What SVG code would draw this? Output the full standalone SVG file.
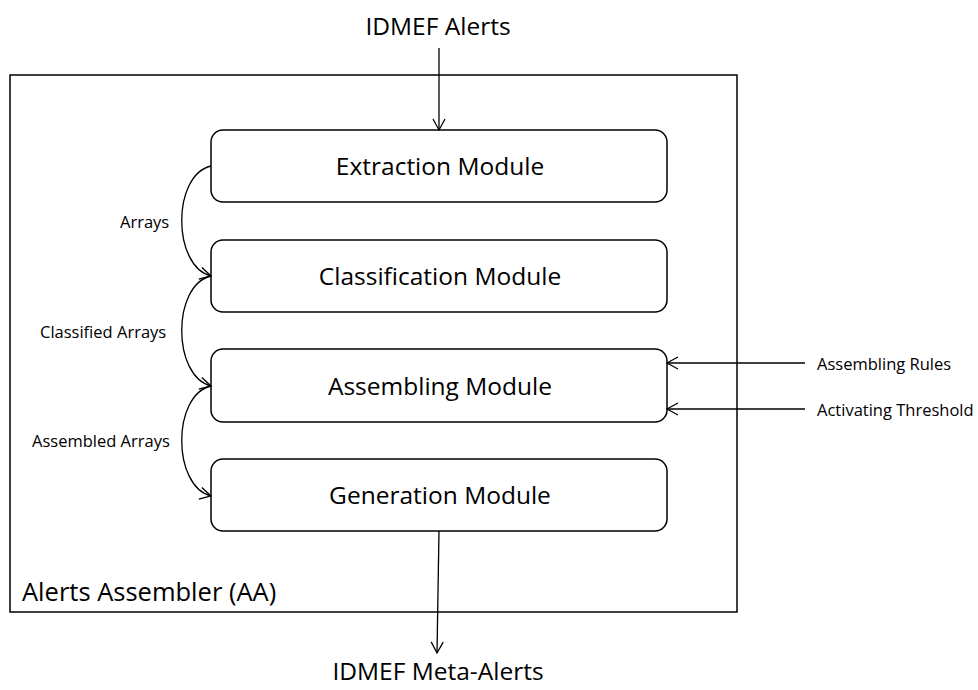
<svg xmlns="http://www.w3.org/2000/svg" width="978" height="690" viewBox="0 0 978 690">
<defs>
<marker id="arr" markerWidth="14" markerHeight="14" refX="12" refY="7" orient="auto" markerUnits="userSpaceOnUse">
<path d="M1,1 L12,7 L1,13" fill="none" stroke="#000" stroke-width="1.3"/>
</marker>
<style>
.box{fill:#fff;stroke:#000;stroke-width:1.5}
.mod{fill:#fff;stroke:#000;stroke-width:1.5}
.big{font-family:"Open Sans","Liberation Sans",sans-serif;font-size:24.5px;fill:#000;text-anchor:middle}
.sm{font-family:"Open Sans","Liberation Sans",sans-serif;font-size:16.5px;fill:#000}
.ln{fill:none;stroke:#000;stroke-width:1.3}
</style>
</defs>
<g id="assembler">
<rect class="box" x="10" y="75" width="727" height="537"/>
<text class="big" x="22" y="601" style="text-anchor:start;font-size:25.5px">Alerts Assembler (AA)</text>
</g>
<g id="extraction">
<rect class="mod" x="211" y="130" width="456" height="72" rx="12"/>
<text class="big" x="440" y="175">Extraction Module</text>
</g>
<g id="classification">
<rect class="mod" x="211" y="240" width="456" height="72" rx="12"/>
<text class="big" x="440" y="285">Classification Module</text>
</g>
<g id="assembling">
<rect class="mod" x="211" y="349" width="456" height="73" rx="12"/>
<text class="big" x="440" y="395">Assembling Module</text>
</g>
<g id="generation">
<rect class="mod" x="211" y="459" width="456" height="72" rx="12"/>
<text class="big" x="440" y="504">Generation Module</text>
</g>
<g id="connectors">
<path class="ln" d="M439,48 L439,130" marker-end="url(#arr)"/>
<path class="ln" d="M439,531 L437,653" marker-end="url(#arr)"/>
<path class="ln" d="M211,166 C172,175 172,266 211,276" marker-end="url(#arr)"/>
<path class="ln" d="M211,276 C172,285 172,376 211,386" marker-end="url(#arr)"/>
<path class="ln" d="M211,386 C172,395 172,486 211,496" marker-end="url(#arr)"/>
<path class="ln" d="M805,363 L667,363" marker-end="url(#arr)"/>
<path class="ln" d="M805,409 L667,409" marker-end="url(#arr)"/>
</g>
<g id="labels">
<text class="big" x="438" y="35">IDMEF Alerts</text>
<text class="big" x="438" y="680">IDMEF Meta-Alerts</text>
<text class="sm" x="120" y="228">Arrays</text>
<text class="sm" x="40" y="338">Classified Arrays</text>
<text class="sm" x="32" y="447">Assembled Arrays</text>
<text class="sm" x="817" y="370">Assembling Rules</text>
<text class="sm" x="817" y="416">Activating Threshold</text>
</g>
</svg>
